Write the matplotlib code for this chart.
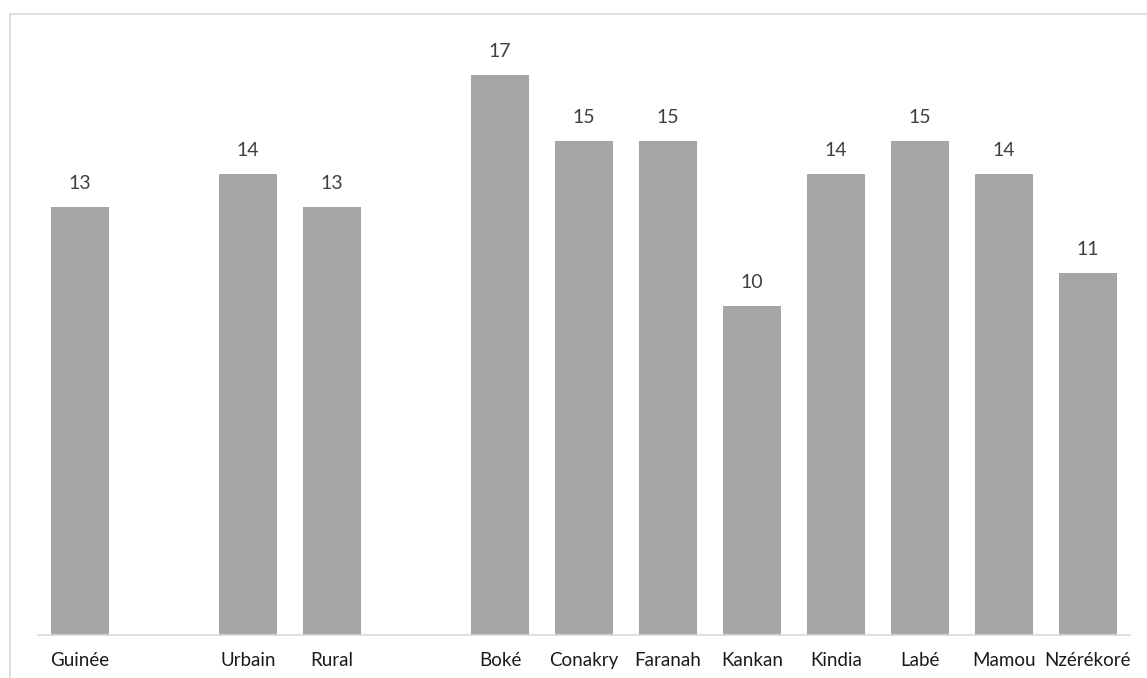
import matplotlib.pyplot as plt
from matplotlib.lines import Line2D

# Données (cases vides = espaces entre groupes)
categories = ['Guinée', '', 'Urbain', 'Rural', '', 'Boké', 'Conakry', 'Faranah',
              'Kankan', 'Kindia', 'Labé', 'Mamou', 'Nzérékoré']
values = [13, None, 14, 13, None, 17, 15, 15, 10, 14, 15, 14, 11]

plt.rcParams['font.family'] = ['Lato', 'DejaVu Sans']

fig = plt.figure(figsize=(11.47, 6.78), dpi=100)
ax = fig.add_axes([38 / 1147, 1 - 635 / 678, (1130 - 38) / 1147, (635 - 25.6) / 678])

x = list(range(len(categories)))
xs = [i for i, v in zip(x, values) if v is not None]
ys = [v for v in values if v is not None]
bars = ax.bar(xs, ys, width=0.68, color='#A5A5A5')

for xi, yi in zip(xs, ys):
    ax.annotate(str(yi), (xi, yi), xytext=(0, 10.5), textcoords='offset points',
                ha='center', va='bottom', fontsize=14, color='#404040')

ax.set_xlim(-0.5, len(categories) - 0.5)
ax.set_ylim(0, 18.5)
ax.set_xticks(x)
ax.set_xticklabels(categories, fontsize=13.5, color='#1a1a1a')
ax.tick_params(axis='x', length=0, pad=12)
ax.set_yticks([])
for s in ['top', 'right', 'left']:
    ax.spines[s].set_visible(False)
ax.spines['bottom'].set_color('#D9D9D9')
ax.spines['bottom'].set_linewidth(1.2)

# cadre du graphique (coupé à droite et en bas)
fig.add_artist(Line2D([10 / 1147, 1], [1 - 14 / 678, 1 - 14 / 678], color='#D9D9D9', lw=1.2))
fig.add_artist(Line2D([10 / 1147, 10 / 1147], [0, 1 - 14 / 678], color='#D9D9D9', lw=1.2))

plt.savefig('out.png', dpi=100)
